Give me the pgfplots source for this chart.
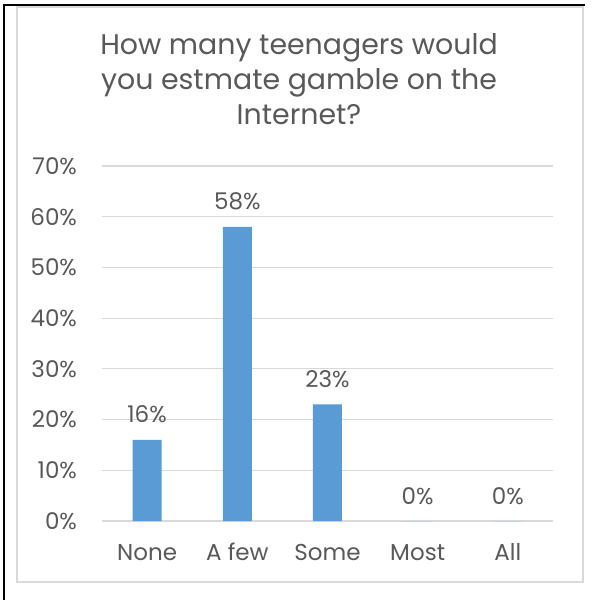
\documentclass[border=0pt]{standalone}
\usepackage{pgfplots}
\pgfplotsset{compat=1.18}
\usepackage{fontspec}
\setmainfont{Poppins}
\definecolor{txt}{HTML}{595959}
\definecolor{gridc}{HTML}{D9D9D9}
\definecolor{barc}{HTML}{5B9BD5}
\begin{document}
\begin{tikzpicture}[x=1pt,y=1pt]
\useasboundingbox (-51pt,-39.5pt) rectangle (245pt,260.5pt);
\fill[white] (-51pt,-39.5pt) rectangle (245pt,260.5pt);
% outer black lines
\draw[black, line width=1pt] (-49pt,-39.5pt) -- (-49pt,258pt) -- (241.5pt,258pt);
% chart frame
\draw[gridc, line width=0.6pt] (-42.5pt,-30.5pt) rectangle (240.5pt,257pt);
% title
\node[anchor=base, text=txt, font=\fontsize{14.2}{16}\selectfont] at (98.5pt,233pt) {How many teenagers would};
\node[anchor=base, text=txt, font=\fontsize{14.2}{16}\selectfont] at (98.5pt,215.5pt) {you estmate gamble on the};
\node[anchor=base, text=txt, font=\fontsize{14.2}{16}\selectfont] at (98.5pt,198pt) {Internet?};
\begin{axis}[
  at={(0pt,0pt)}, anchor=south west,
  scale only axis,
  width=225.5pt, height=177.5pt,
  xmin=-0.5, xmax=4.5,
  ymin=0, ymax=70,
  ytick={0,10,20,30,40,50,60,70},
  yticklabel={\pgfmathprintnumber{\tick}\%},
  xtick={0,1,2,3,4},
  xticklabels={None,A few,Some,Most,All},
  /pgf/number format/assume math mode=true,
  axis line style={draw=none},
  major tick length=0pt,
  ymajorgrids,
  major grid style={gridc, line width=0.6pt},
  ticklabel style={text=txt, font=\fontsize{11.5}{13}\selectfont},
  yticklabel style={anchor=east, xshift=-9pt},
  xticklabel style={anchor=base, yshift=-19.5pt},
  ybar, bar width=14.5pt,
  nodes near coords={\pgfmathprintnumber{\pgfplotspointmeta}\%},
  nodes near coords style={anchor=base, yshift=8.5pt, text=txt, font=\fontsize{11.5}{13}\selectfont, /pgf/number format/assume math mode=true},
  clip=false,
]
\addplot[fill=barc, draw=none] coordinates {(0,16) (1,58) (2,23) (3,0) (4,0)};
\end{axis}
\end{tikzpicture}
\end{document}
